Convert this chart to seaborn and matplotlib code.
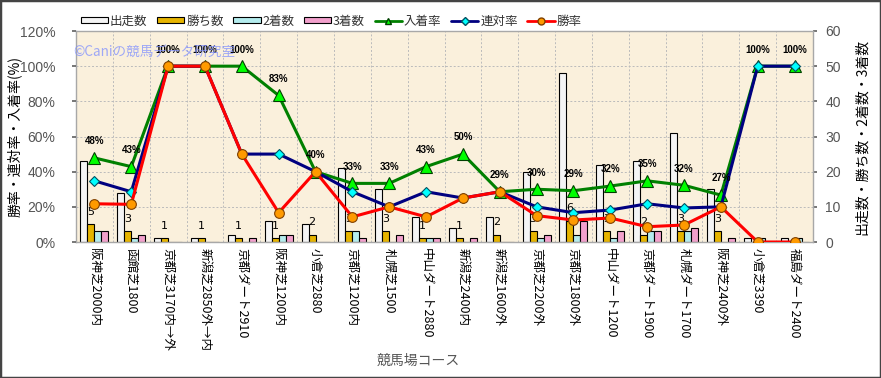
import numpy as np
import pandas as pd
import matplotlib
matplotlib.use("Agg")
import matplotlib.pyplot as plt
from matplotlib.patches import Patch, Rectangle
from matplotlib.lines import Line2D
import seaborn as sns

# %% data
courses = ["阪神芝2000内", "函館芝1800", "京都芝3170内→外", "新潟芝2850外→内", "京都ダート2910",
           "阪神芝1200内", "小倉芝2880", "京都芝1200内", "札幌芝1500", "中山ダート2880",
           "新潟芝2400内", "新潟芝1600外", "京都芝2200外", "京都芝1800外", "中山ダート1200",
           "京都ダート1900", "札幌ダート1700", "阪神芝2400外", "小倉芝3390", "福島ダート2400"]
runs = [23, 14, 1, 1, 2, 6, 5, 21, 15, 7, 4, 7, 20, 48, 22, 23, 31, 15, 1, 1]
wins = [5, 3, 1, 1, 1, 1, 2, 3, 3, 1, 1, 2, 3, 6, 3, 2, 3, 3, 0, 0]
seconds = [3, 1, 0, 0, 0, 2, 0, 3, 0, 1, 0, 0, 1, 2, 1, 3, 3, 0, 1, 1]
thirds = [3, 2, 0, 0, 1, 2, 0, 1, 2, 1, 1, 0, 2, 6, 3, 3, 4, 1, 0, 0]

win_rate = [100 * w / r for w, r in zip(wins, runs)]
rentai_rate = [100 * (w + s) / r for w, s, r in zip(wins, seconds, runs)]
place_rate = [100 * (w + s + t) / r for w, s, t, r in zip(wins, seconds, thirds, runs)]

bar_names = ["出走数", "勝ち数", "2着数", "3着数"]
bar_colors = ["#F4F4F4", "#E6B400", "#B4ECEE", "#F2A0CC"]

df = pd.DataFrame({"course": courses, "出走数": runs, "勝ち数": wins,
                   "2着数": seconds, "3着数": thirds})
long_df = df.melt(id_vars="course", var_name="kind", value_name="count")

# %% plot
sns.set_theme(style="white")
plt.rcParams["font.family"] = ["Noto Sans CJK JP", "DejaVu Sans"]
tick_font = ["Liberation Sans Narrow", "Liberation Sans", "DejaVu Sans"]

fig = plt.figure(figsize=(8.81, 3.78), dpi=100)
ax = fig.add_axes([76 / 881, 1 - 242 / 378, (813 - 76) / 881, (242 - 31) / 378])
ax.set_facecolor("#FAF0DC")

sns.barplot(data=long_df, x="course", y="count", hue="kind", hue_order=bar_names,
            palette=bar_colors, edgecolor="black", linewidth=0.8, width=0.76,
            saturation=1, legend=False, ax=ax)
ax.set_ylim(0, 60)
ax.set_xlim(-0.5, len(courses) - 0.5)

# rate axis (twinx resets the first axis ticks, so create it before moving ticks)
ax2 = ax.twinx()

ax.yaxis.tick_right()
ax.yaxis.set_label_position("right")
ax.set_yticks(range(0, 61, 10))
ax.set_yticklabels([str(v) for v in range(0, 61, 10)], family=tick_font)
ax.tick_params(axis="y", colors="#666666", labelsize=10, length=3, pad=6, labelcolor="#555555")
ax.tick_params(axis="x", length=0, labelsize=9, pad=4)
ax.set_xticks(range(len(courses)))
ax.set_xticklabels(courses, rotation=270, va="top", ha="center", color="black")
ax.set_xlabel("競馬場コース", fontsize=10, color="#555555")
ax.xaxis.set_label_coords(0.465, -0.53)
ax.set_ylabel("出走数・勝ち数・2着数・3着数", fontsize=10, color="black", rotation=90)
ax.yaxis.set_label_coords(1.057, 0.5)

# grid at category boundaries
for k in range(1, len(courses)):
    ax.axvline(k - 0.5, color="#BBBBBB", lw=0.7, ls=(0, (2, 2)), zorder=0)
for v in range(10, 60, 10):
    ax.axhline(v, color="#BBBBBB", lw=0.7, ls=(0, (2, 2)), zorder=0)
for sp in ax.spines.values():
    sp.set_color("#A8A8A8")
    sp.set_linewidth(1)

# win count labels
x = np.arange(len(courses))
for xi, w in zip(x, wins):
    if w > 0:
        ax.annotate(str(w), (xi - 0.095, w), xytext=(0, 9), textcoords="offset points",
                    ha="center", va="center", fontsize=8, family="DejaVu Sans", color="black")

ax2.yaxis.tick_left()
ax2.yaxis.set_label_position("left")
ax2.set_ylim(0, 120)
ax2.set_yticks(range(0, 121, 20))
ax2.set_yticklabels([f"{v}%" for v in range(0, 121, 20)], family=tick_font)
ax2.tick_params(axis="y", colors="#666666", labelsize=10, length=3, pad=12, labelcolor="#555555")
ax2.set_ylabel("勝率・連対率・入着率(%)", fontsize=10, color="black")
ax2.yaxis.set_label_coords(-0.073, 0.5)
for sp in ax2.spines.values():
    sp.set_visible(False)

sns.lineplot(x=x, y=place_rate, ax=ax2, color="#008000", lw=2.2, marker="^", markersize=8,
             markerfacecolor="#00FF00", markeredgecolor="#004000", markeredgewidth=0.8)
sns.lineplot(x=x, y=rentai_rate, ax=ax2, color="#000080", lw=2.2, marker="D", markersize=5.5,
             markerfacecolor="#00FFFF", markeredgecolor="#005060", markeredgewidth=0.8)
sns.lineplot(x=x, y=win_rate, ax=ax2, color="#FF0000", lw=2.2, marker="o", markersize=7,
             markerfacecolor="#FF9A00", markeredgecolor="#804000", markeredgewidth=0.8)
ax2.set_xlim(-0.5, len(courses) - 0.5)

for xi, p in zip(x, place_rate):
    ax2.annotate(f"{p:.0f}%", (xi, p), xytext=(0, 12), textcoords="offset points",
                 ha="center", va="center", fontsize=7, fontweight="bold",
                 family=tick_font, color="black")

ax2.text(-0.58, 108, "©Caniの競馬データ研究室", fontsize=9.8, color="#8090FF", alpha=0.75,
         va="center", ha="left", zorder=10)

# legend
handles = [Patch(facecolor=c, edgecolor="black", linewidth=0.8) for c in bar_colors]
handles += [
    Line2D([], [], color="#008000", lw=2, marker="^", markersize=5,
           markerfacecolor="#00FF00", markeredgecolor="#004000"),
    Line2D([], [], color="#000080", lw=2, marker="D", markersize=4,
           markerfacecolor="#00FFFF", markeredgecolor="#005060"),
    Line2D([], [], color="#FF0000", lw=2, marker="o", markersize=5,
           markerfacecolor="#FF9A00", markeredgecolor="#804000"),
]
labels = bar_names + ["入着率", "連対率", "勝率"]
fig.legend(handles, labels, loc="center left", bbox_to_anchor=(78 / 881, 1 - 21 / 378),
           ncol=7, frameon=False, fontsize=9, handlelength=2.2, handleheight=0.45,
           handletextpad=0.15, columnspacing=0.75, labelcolor="#333333",
           borderaxespad=0, borderpad=0.2)

fig.patches.append(Rectangle((0, 0), 1, 1, transform=fig.transFigure, fill=False,
                             edgecolor="#444444", lw=2.5))

fig.savefig("out.png", dpi=100, facecolor="white")
